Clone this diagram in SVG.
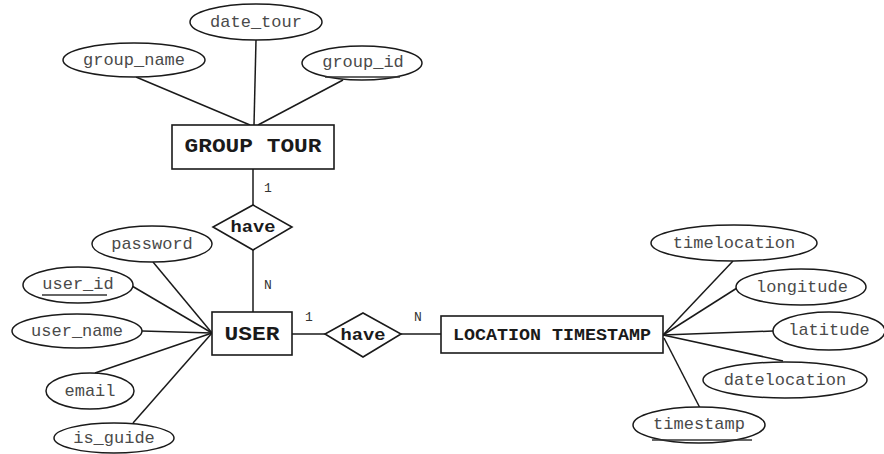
<svg xmlns="http://www.w3.org/2000/svg" width="884" height="454" viewBox="0 0 884 454">
<style>
.bg{fill:#ffffff}
.ln{stroke:#1a1a1a;stroke-width:1.5;fill:none}
.ell{fill:#ffffff;stroke:#1a1a1a;stroke-width:1.5}
.ent{fill:#ffffff;stroke:#1a1a1a;stroke-width:1.6}
.att{font-family:"Liberation Mono","Courier New",monospace;font-size:17px;fill:#4a4a4a;text-anchor:middle;dominant-baseline:central}
.etx{font-family:"Liberation Mono","Courier New",monospace;font-weight:bold;fill:#1a1a1a;text-anchor:middle;dominant-baseline:central}
.card{font-family:"Liberation Mono","Courier New",monospace;font-size:13px;fill:#333;text-anchor:middle;dominant-baseline:central}
.ul{stroke:#333;stroke-width:1.3}
</style>
<rect class="bg" x="0" y="0" width="884" height="454"/>
<g id="connectors">
  <line class="ln" x1="256" y1="40" x2="254" y2="125"/>
  <line class="ln" x1="136" y1="77" x2="250" y2="125"/>
  <line class="ln" x1="343" y1="80" x2="258" y2="125"/>
  <line class="ln" x1="253" y1="169" x2="253" y2="205"/>
  <line class="ln" x1="253" y1="250" x2="253" y2="312"/>
  <line class="ln" x1="153" y1="262" x2="212" y2="333"/>
  <line class="ln" x1="132" y1="286" x2="212" y2="333"/>
  <line class="ln" x1="142" y1="331" x2="212" y2="333"/>
  <line class="ln" x1="95" y1="373" x2="212" y2="333"/>
  <line class="ln" x1="133" y1="423" x2="212" y2="333"/>
  <line class="ln" x1="292" y1="334" x2="325" y2="334"/>
  <line class="ln" x1="401" y1="334" x2="441" y2="334"/>
  <line class="ln" x1="663" y1="335" x2="733" y2="261"/>
  <line class="ln" x1="663" y1="335" x2="737" y2="288"/>
  <line class="ln" x1="663" y1="335" x2="773" y2="331"/>
  <line class="ln" x1="663" y1="335" x2="783" y2="361"/>
  <line class="ln" x1="664" y1="338" x2="700" y2="408"/>
  <text class="card" x="268" y="188">1</text>
  <text class="card" x="268" y="285">N</text>
  <text class="card" x="309" y="317">1</text>
  <text class="card" x="418" y="317">N</text>
</g>
<g id="attr_date_tour">
  <ellipse class="ell" cx="256" cy="22" rx="66" ry="18"/>
  <text class="att" x="256" y="22">date_tour</text>
</g>
<g id="attr_group_name">
  <ellipse class="ell" cx="134" cy="60" rx="71" ry="17"/>
  <text class="att" x="134" y="60">group_name</text>
</g>
<g id="attr_group_id">
  <ellipse class="ell" cx="362" cy="63" rx="60" ry="17"/>
  <text class="att" x="363" y="62">group_id</text>
  <line class="ul" x1="325" y1="77" x2="400" y2="77"/>
</g>
<g id="entity_group_tour">
  <rect class="ent" x="172" y="125" width="162" height="44"/>
  <text class="etx" x="253" y="146" font-size="20" textLength="137" lengthAdjust="spacingAndGlyphs">GROUP TOUR</text>
</g>
<g id="rel_have_1">
  <polygon class="ent" points="253,205 292,227 253,250 213,227"/>
  <text class="etx" x="253" y="227" font-size="17" textLength="45" lengthAdjust="spacingAndGlyphs">have</text>
</g>
<g id="attr_password">
  <ellipse class="ell" cx="152" cy="244" rx="60" ry="18"/>
  <text class="att" x="152" y="244">password</text>
</g>
<g id="attr_user_id">
  <ellipse class="ell" cx="78" cy="285" rx="55" ry="18"/>
  <text class="att" x="78" y="284">user_id</text>
  <line class="ul" x1="42" y1="295" x2="107" y2="295"/>
</g>
<g id="attr_user_name">
  <ellipse class="ell" cx="77" cy="331" rx="65" ry="17"/>
  <text class="att" x="77" y="331">user_name</text>
</g>
<g id="attr_email">
  <ellipse class="ell" cx="90" cy="391" rx="44" ry="18"/>
  <text class="att" x="90" y="391">email</text>
</g>
<g id="attr_is_guide">
  <ellipse class="ell" cx="114" cy="438" rx="60" ry="15"/>
  <text class="att" x="114" y="438">is_guide</text>
</g>
<g id="entity_user">
  <rect class="ent" x="212" y="312" width="80" height="43"/>
  <text class="etx" x="252" y="334" font-size="20" textLength="55" lengthAdjust="spacingAndGlyphs">USER</text>
</g>
<g id="rel_have_2">
  <polygon class="ent" points="363,313 401,334 363,357 325,334"/>
  <text class="etx" x="363" y="335" font-size="17" textLength="45" lengthAdjust="spacingAndGlyphs">have</text>
</g>
<g id="entity_location_timestamp">
  <rect class="ent" x="441" y="316" width="222" height="37"/>
  <text class="etx" x="552" y="335" font-size="17" textLength="198" lengthAdjust="spacingAndGlyphs">LOCATION TIMESTAMP</text>
</g>
<g id="attr_timelocation">
  <ellipse class="ell" cx="734" cy="243" rx="83" ry="18"/>
  <text class="att" x="734" y="243">timelocation</text>
</g>
<g id="attr_longitude">
  <ellipse class="ell" cx="801" cy="287" rx="65" ry="18"/>
  <text class="att" x="802" y="287">longitude</text>
</g>
<g id="attr_latitude">
  <ellipse class="ell" cx="829" cy="331" rx="56" ry="19"/>
  <text class="att" x="829" y="330">latitude</text>
</g>
<g id="attr_datelocation">
  <ellipse class="ell" cx="785" cy="380" rx="82" ry="18"/>
  <text class="att" x="785" y="380">datelocation</text>
</g>
<g id="attr_timestamp">
  <ellipse class="ell" cx="699" cy="425" rx="66" ry="18"/>
  <text class="att" x="699" y="424">timestamp</text>
  <line class="ul" x1="652" y1="440" x2="752" y2="440"/>
</g>
</svg>
